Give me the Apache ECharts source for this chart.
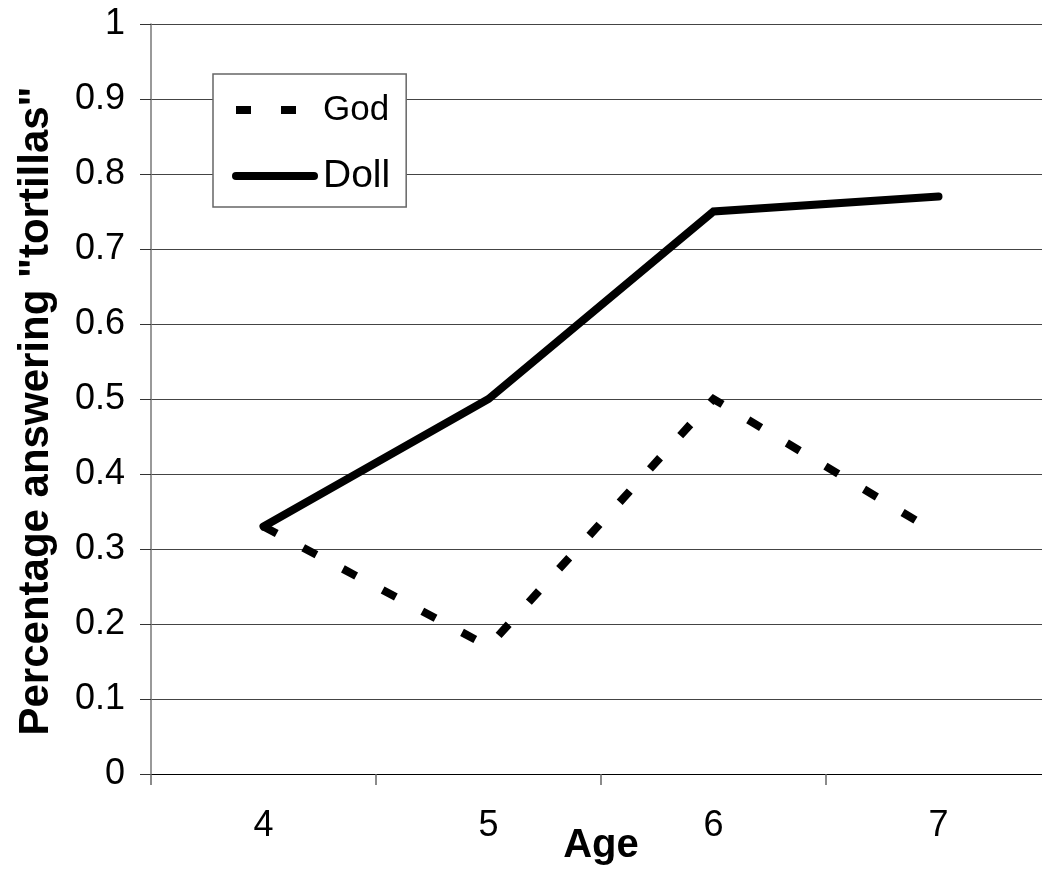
<!DOCTYPE html>
<html>
<head>
<meta charset="utf-8">
<script src="https://cdn.jsdelivr.net/npm/echarts@6/dist/echarts.min.js"></script>
<style>
html,body{margin:0;padding:0;background:#fff;overflow:hidden;width:1042px;height:873px;}
#chart{width:1060px;height:873px;}
</style>
</head>
<body>
<div id="chart"></div>
<script>
var ages = ['4', '5', '6', '7'];
var godValues = [0.33, 0.17, 0.50, 0.32];
var dollValues = [0.33, 0.50, 0.75, 0.77];
var yTicks = { min: 0, max: 1, interval: 0.1 };

var FONT = '"Liberation Sans", Arial, sans-serif';
var godLine = { color: '#000', width: 8, type: [15, 30], cap: 'butt', join: 'miter' };
var dollLine = { color: '#000', width: 8, type: 'solid', cap: 'round', join: 'miter' };

var chart = echarts.init(document.getElementById('chart'), null, { renderer: 'canvas' });
chart.setOption({
  backgroundColor: '#ffffff',
  animation: false,
  grid: { left: 151, top: 24, width: 900, height: 750, containLabel: false, outerBoundsMode: 'none' },
  legend: {
    orient: 'vertical',
    left: 213,
    top: 74,
    padding: [13, 16, 8, 19],
    itemWidth: 78,
    itemHeight: 16,
    itemGap: 20,
    backgroundColor: '#ffffff',
    borderColor: '#666666',
    borderWidth: 1.5,
    borderRadius: 0,
    data: [
      { name: 'God', lineStyle: godLine, itemStyle: { color: 'rgba(0,0,0,0)', borderWidth: 0, opacity: 0 } },
      { name: 'Doll', lineStyle: dollLine, itemStyle: { color: 'rgba(0,0,0,0)', borderWidth: 0, opacity: 0 } }
    ],
    formatter: function (name) { return name === 'God' ? '{g|God}' : '{d|Doll}'; },
    textStyle: {
      fontFamily: FONT, color: '#000', lineHeight: 46, padding: [0, 0, 0, 4],
      rich: {
        g: { fontFamily: FONT, fontSize: 35, color: '#000', lineHeight: 46 },
        d: { fontFamily: FONT, fontSize: 39, color: '#000', lineHeight: 46 }
      }
    }
  },
  xAxis: {
    type: 'category',
    data: ages,
    boundaryGap: true,
    name: 'Age',
    nameLocation: 'middle',
    nameGap: 52,
    nameMoveOverlap: false,
    nameTextStyle: { fontFamily: FONT, fontSize: 40, fontWeight: 'bold', color: '#000' },
    axisLine: { show: true, lineStyle: { color: '#000', width: 1 } },
    axisTick: { show: true, alignWithLabel: false, length: 11, lineStyle: { color: '#666', width: 1.5 } },
    axisLabel: { fontFamily: FONT, fontSize: 36, color: '#000', margin: 34 },
    splitLine: { show: false }
  },
  yAxis: {
    type: 'value',
    min: yTicks.min,
    max: yTicks.max,
    interval: yTicks.interval,
    name: 'Percentage answering "tortillas"',
    nameLocation: 'middle',
    nameGap: 94,
    nameMoveOverlap: false,
    nameTextStyle: { fontFamily: FONT, fontSize: 42, fontWeight: 'bold', color: '#000', padding: [0, 24, 0, 0] },
    axisLine: { show: true, lineStyle: { color: '#777', width: 1.5 } },
    axisTick: { show: true, length: 11, lineStyle: { color: '#333', width: 1 } },
    axisLabel: { fontFamily: FONT, fontSize: 36, color: '#000', margin: 26 },
    splitLine: { show: true, lineStyle: { color: '#444', width: 1 } }
  },
  series: [
    {
      name: 'God',
      type: 'line',
      data: godValues,
      symbol: 'none',
      smooth: false,
      lineStyle: godLine,
      itemStyle: { color: '#000' },
      z: 3
    },
    {
      name: 'Doll',
      type: 'line',
      data: dollValues,
      symbol: 'none',
      smooth: false,
      lineStyle: dollLine,
      itemStyle: { color: '#000' },
      z: 4
    }
  ]
});
</script>
</body>
</html>
